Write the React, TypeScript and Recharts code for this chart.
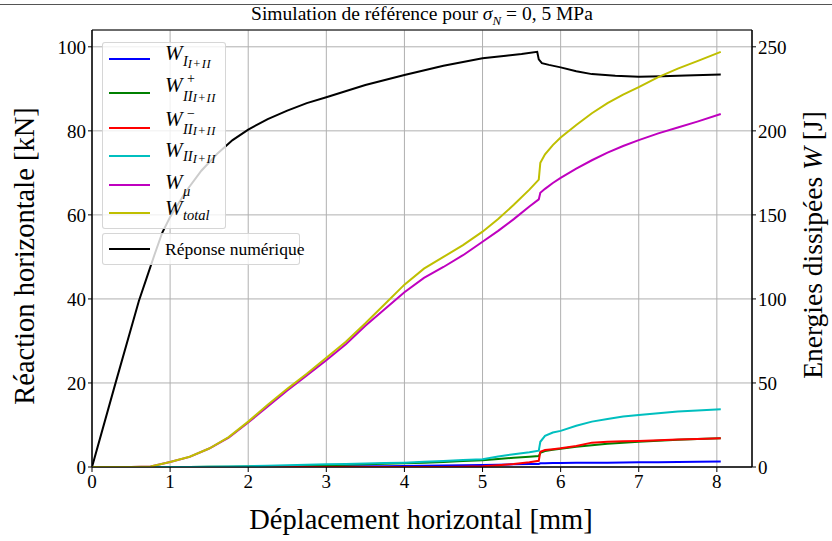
import React from "react";
import {
  ComposedChart,
  Line,
  XAxis,
  YAxis,
  CartesianGrid,
  Legend,
  ReferenceArea,
  Label,
} from "recharts";

const FONT = "'Liberation Serif', 'DejaVu Serif', serif";

// reaction force curve (left axis, kN)
const forceX = [
  0, 0.3, 0.6, 0.7, 0.8, 0.9, 1.0, 1.2, 1.4, 1.6, 1.8, 2.0, 2.25, 2.5, 2.75, 3.0, 3.5, 4.0, 4.5,
  5.0, 5.3, 5.5, 5.7, 5.72, 5.76, 5.85, 6.0, 6.2, 6.4, 6.7, 7.0, 7.3, 7.6, 8.05,
];
const forceKN = [
  0, 19.9, 39.5, 45, 50.5, 55.8, 59.5, 65.5, 70.5, 74.5, 77.8, 80.3, 82.8, 84.8, 86.6, 88.0, 90.9,
  93.3, 95.5, 97.3, 97.9, 98.3, 98.8, 97.0, 96.1, 95.7, 95.1, 94.2, 93.5, 93.1, 92.9, 93.0, 93.2, 93.4,
];

// dissipated energies (right axis, J)
const energyX = [
  0, 0.5, 0.75, 1.0, 1.25, 1.5, 1.75, 2.0, 2.25, 2.5, 2.75, 3.0, 3.25, 3.5, 3.75, 4.0, 4.25, 4.5,
  4.75, 5.0, 5.2, 5.4, 5.6, 5.72, 5.74, 5.8, 5.9, 6.0, 6.2, 6.4, 6.6, 6.8, 7.0, 7.25, 7.5, 7.75, 8.05,
];
const wI = [
  0, 0, 0, 0, 0, 0, 0, 0, 0.05, 0.1, 0.2, 0.3, 0.38, 0.45, 0.52, 0.6, 0.72, 0.85, 1.0, 1.2, 1.4,
  1.6, 1.75, 1.8, 2.2, 2.3, 2.35, 2.4, 2.5, 2.55, 2.6, 2.7, 2.8, 2.9, 3.0, 3.1, 3.2,
];
const wIIplus = [
  0, 0, 0, 0, 0, 0.1, 0.2, 0.3, 0.5, 0.65, 0.8, 1.0, 1.3, 1.6, 1.9, 2.2, 2.6, 3.0, 3.5, 4.0, 4.8,
  5.5, 6.1, 6.5, 8.5, 9.5, 10.2, 10.8, 12.0, 13.0, 13.8, 14.5, 15.0, 15.6, 16.2, 16.7, 17.1,
];
const wIIminus = [
  0, 0, 0, 0, 0, 0, 0, 0, 0, 0, 0, 0, 0, 0, 0, 0, 0, 0.05, 0.2, 0.5, 1.1, 1.8, 2.8, 3.7, 9.1, 10.1,
  10.6, 11.1, 12.5, 14.5, 15.0, 15.3, 15.5, 15.9, 16.3, 16.7, 17.1,
];
const wII = [
  0, 0, 0, 0, 0.05, 0.15, 0.3, 0.5, 0.7, 1.0, 1.3, 1.6, 1.8, 2.1, 2.35, 2.6, 3.1, 3.6, 4.1, 4.6,
  6.3, 7.6, 8.8, 9.7, 15, 18.5, 20.5, 21.5, 24.5, 27, 28.5, 30, 31, 32, 33, 33.6, 34.4,
];
const wMu = [
  0, 0, 0.3, 3, 6, 11, 17.5, 26.5, 36, 45.5, 54.5, 63.5, 73, 84, 94, 104, 112.5, 119, 126, 134,
  140.5, 147.5, 155, 159.2, 163.2, 165.5, 169, 172, 177.5, 182.5, 187, 191, 194.5, 198.5, 202,
  205.5, 210,
];
const wTotal = [
  0, 0, 0.3, 3, 6.1, 11, 17.8, 27, 37, 46.5, 55.5, 65, 74.5, 85.5, 97, 108.5, 118, 125, 132, 140,
  147.5, 156, 165, 171, 181, 186, 191.5, 196, 203.5, 210.5, 216.5, 221.5, 226, 232, 237, 241.5, 247,
];

const xTicks = [0, 1, 2, 3, 4, 5, 6, 7, 8];
const leftTicks = [0, 20, 40, 60, 80, 100];
const rightTicks = [0, 50, 100, 150, 200, 250];

const forceData = forceX.map((x, i) => ({ x, f: forceKN[i] }));
const energyData = energyX.map((x, i) => ({
  x,
  wI: wI[i],
  wIIplus: wIIplus[i],
  wIIminus: wIIminus[i],
  wII: wII[i],
  wMu: wMu[i],
  wTotal: wTotal[i],
}));

const energySeries = [
  { key: "wI", color: "#0000ff" },
  { key: "wIIplus", color: "#008000" },
  { key: "wIIminus", color: "#ff0000" },
  { key: "wII", color: "#00bfbf" },
  { key: "wMu", color: "#bf00bf" },
  { key: "wTotal", color: "#bfbf00" },
];

// W with sub / sub-sub / sup, all placed relative to the W baseline
function WSym(props: {
  sub: string;
  subDy: number;
  subsub?: string;
  subsubDy?: number;
  sup?: string;
  supDy?: number;
}) {
  const { sub, subDy, subsub, subsubDy = 1, sup, supDy = -8.5 } = props;
  const common: React.CSSProperties = {
    position: "absolute",
    lineHeight: 1,
    whiteSpace: "nowrap",
    fontFamily: FONT,
    color: "#000",
  };
  return (
    <>
      <span style={{ ...common, left: 0, top: -0.8375 * 21, fontSize: 21, fontStyle: "italic" }}>W</span>
      {sup && <span style={{ ...common, left: 22, top: supDy - 0.8375 * 14, fontSize: 14 }}>{sup}</span>}
      <span style={{ ...common, left: 18, top: subDy - 0.8375 * 14, fontSize: 14.5, fontStyle: "italic" }}>
        {sub}
        {subsub && (
          <span style={{ position: "relative", top: subsubDy, fontSize: 12.5, letterSpacing: 0.6 }}>{subsub}</span>
        )}
      </span>
    </>
  );
}

const legendRows = [
  { color: "#0000ff", cy: 15.7, off: 2.3, label: <WSym sub="I" subDy={5} subsub="I+II" subsubDy={1.5} /> },
  { color: "#008000", cy: 49.7, off: 0, label: <WSym sup="+" supDy={-9} sub="II" subDy={7.6} subsub="I+II" subsubDy={1} /> },
  { color: "#ff0000", cy: 84.7, off: -1.5, label: <WSym sup="−" supDy={-7} sub="II" subDy={7.5} subsub="I+II" subsubDy={1} /> },
  { color: "#00bfbf", cy: 113.3, off: 1.4, label: <WSym sub="II" subDy={3.5} subsub="I+II" subsubDy={2} /> },
  { color: "#bf00bf", cy: 142, off: 4.3, label: <WSym sub="μ" subDy={6} /> },
  { color: "#bfbf00", cy: 169.7, off: 3.3, label: <WSym sub="total" subDy={3.5} /> },
];

const boxStyle: React.CSSProperties = {
  position: "absolute",
  background: "rgba(255,255,255,0.8)",
  border: "1px solid rgba(204,204,204,0.8)",
  borderRadius: 3,
  boxSizing: "border-box",
};

function LegendBoxes() {
  return (
    <div style={{ position: "relative", width: 832, height: 541, pointerEvents: "none" }}>
      <div style={{ ...boxStyle, left: 102, top: 42, width: 124, height: 187 }}>
        {legendRows.map((r, i) => (
          <React.Fragment key={i}>
            <div style={{ position: "absolute", left: 6, top: r.cy - 1, width: 41, height: 2, background: r.color }} />
            <div style={{ position: "absolute", left: 62, top: r.cy + r.off, width: 60, height: 0 }}>{r.label}</div>
          </React.Fragment>
        ))}
      </div>
      <div style={{ ...boxStyle, left: 102, top: 233, width: 198, height: 32 }}>
        <div style={{ position: "absolute", left: 6, top: 14.3, width: 41, height: 2, background: "#000" }} />
        <div style={{ position: "absolute", left: 62, top: 1, lineHeight: "28px", fontFamily: FONT, fontSize: 17.5, color: "#000", whiteSpace: "nowrap" }}>
          Réponse numérique
        </div>
      </div>
    </div>
  );
}

const tickStyle = { fill: "#000", fontSize: 19, fontFamily: FONT };

export default function App() {
  return (
    <div style={{ position: "absolute", left: 0, top: 0, width: 832, height: 541, background: "#fff" }}>
      <div style={{ position: "absolute", left: 0, top: 4, width: 832, height: 1, background: "#555" }} />
      <div
        style={{
          position: "absolute",
          left: 92,
          width: 660,
          top: 2,
          textAlign: "center",
          fontFamily: FONT,
          fontSize: 19.5,
          lineHeight: "24px",
          color: "#000",
          whiteSpace: "nowrap",
        }}
      >
        Simulation de référence pour <i>σ</i>
        <sub style={{ fontSize: 13, fontStyle: "italic" }}>N</sub> = 0, 5 MPa
      </div>
      <ComposedChart width={832} height={541} margin={{ top: 30, right: 0, bottom: 0, left: 0 }}>
        <CartesianGrid yAxisId="left" stroke="#b0b0b0" strokeWidth={1} />
        <XAxis
          dataKey="x"
          type="number"
          domain={[0, 8.45]}
          ticks={xTicks}
          interval={0}
          height={74}
          tickSize={5}
          tickMargin={3}
          allowDataOverflow
          axisLine={{ stroke: "#000" }}
          tickLine={{ stroke: "#000" }}
          tick={tickStyle}
        >
          <Label
            content={() => (
              <text x={421} y={529} textAnchor="middle" fontFamily={FONT} fontSize={28.5} fill="#000">
                Déplacement horizontal [mm]
              </text>
            )}
          />
        </XAxis>
        <YAxis
          yAxisId="left"
          type="number"
          domain={[0, 104]}
          ticks={leftTicks}
          interval={0}
          width={92}
          tickSize={4}
          tickMargin={2}
          allowDataOverflow
          axisLine={{ stroke: "#000" }}
          tickLine={{ stroke: "#000" }}
          tick={tickStyle}
        >
          <Label
            content={() => (
              <text x={34} y={256} transform="rotate(-90, 34, 256)" textAnchor="middle" fontFamily={FONT} fontSize={28.5} fill="#000">
                Réaction horizontale [kN]
              </text>
            )}
          />
        </YAxis>
        <YAxis
          yAxisId="right"
          orientation="right"
          type="number"
          domain={[0, 260]}
          ticks={rightTicks}
          interval={0}
          width={80}
          tickSize={4}
          tickMargin={2}
          allowDataOverflow
          axisLine={{ stroke: "#000" }}
          tickLine={{ stroke: "#000" }}
          tick={tickStyle}
        >
          <Label
            content={() => (
              <text x={822} y={245} transform="rotate(-90, 822, 245)" textAnchor="middle" fontFamily={FONT} fontSize={27.5} fill="#000">
                Energies dissipées <tspan fontStyle="italic">W</tspan> [J]
              </text>
            )}
          />
        </YAxis>
        <Line
          data={forceData}
          dataKey="f"
          yAxisId="left"
          type="linear"
          stroke="#000"
          strokeWidth={2}
          dot={false}
          activeDot={false}
          isAnimationActive={false}
        />
        {energySeries.map((s) => (
          <Line
            key={s.key}
            data={energyData}
            dataKey={s.key}
            yAxisId="right"
            type="linear"
            stroke={s.color}
            strokeWidth={2}
            dot={false}
            activeDot={false}
            isAnimationActive={false}
          />
        ))}
        <ReferenceArea
          yAxisId="left"
          x1={0}
          x2={8.45}
          y1={0}
          y2={104}
          fill="none"
          stroke="#000"
          strokeWidth={1}
          ifOverflow="visible"
        />
        <Legend
          layout="vertical"
          align="center"
          verticalAlign="middle"
          wrapperStyle={{ left: 0, top: 0, width: 832, height: 541 }}
          content={() => <LegendBoxes />}
        />
      </ComposedChart>
    </div>
  );
}
